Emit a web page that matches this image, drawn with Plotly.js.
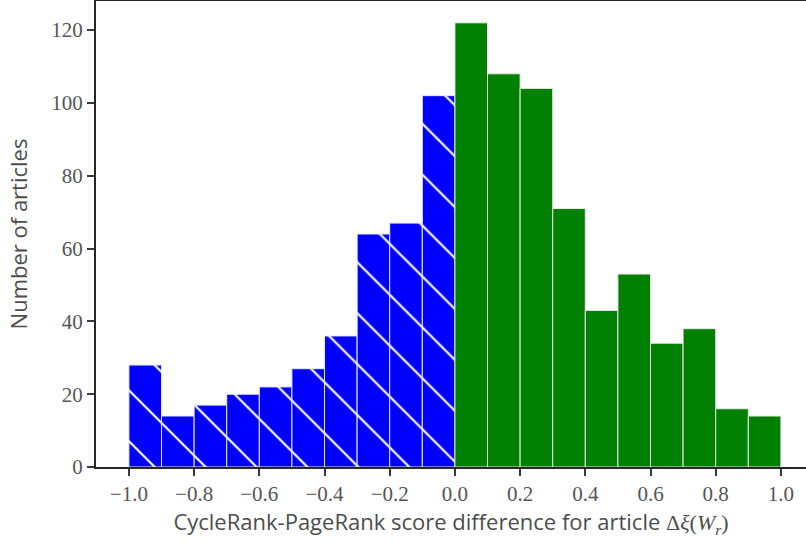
<!DOCTYPE html>
<html>
<head>
<meta charset="utf-8">
<script src="https://cdn.plot.ly/plotly-3.0.1.min.js"></script>
<style>
  html, body { margin: 0; padding: 0; background: #fff; }
  #chart { width: 806px; height: 547px; }
</style>
</head>
<body>
<div id="chart"></div>
<script>
// Histogram of score differences, bins of width 0.1 from -1.0 to 1.0
const binWidth = 0.1;
const negBinStarts = [-1.0, -0.9, -0.8, -0.7, -0.6, -0.5, -0.4, -0.3, -0.2, -0.1];
const negCounts    = [28, 14, 17, 20, 22, 27, 36, 64, 67, 102];
const posBinStarts = [0.0, 0.1, 0.2, 0.3, 0.4, 0.5, 0.6, 0.7, 0.8, 0.9];
const posCounts    = [122, 108, 104, 71, 43, 53, 34, 38, 16, 14];

const xTickVals = [-1.0, -0.8, -0.6, -0.4, -0.2, 0.0, 0.2, 0.4, 0.6, 0.8, 1.0];
const xTickText = ['\u22121.0', '\u22120.8', '\u22120.6', '\u22120.4', '\u22120.2', '0.0', '0.2', '0.4', '0.6', '0.8', '1.0'];
const yTickVals = [0, 20, 40, 60, 80, 100, 120];

const serif = 'Liberation Serif, DejaVu Serif, serif';
const sans = 'Open Sans, DejaVu Sans, sans-serif';

const negative = {
  type: 'bar',
  x: negBinStarts,
  y: negCounts,
  width: binWidth,
  offset: 0,
  marker: {
    color: '#0000ff',
    line: { color: '#e8e8ff', width: 1 },
    pattern: { shape: '\\', fgcolor: '#ffffff', bgcolor: '#0000ff', size: 36, solidity: 0.06, fillmode: 'replace' }
  },
  hoverinfo: 'x+y'
};

const positive = {
  type: 'bar',
  x: posBinStarts,
  y: posCounts,
  width: binWidth,
  offset: 0,
  marker: {
    color: '#008000',
    line: { color: '#e8e8e8', width: 1 }
  },
  hoverinfo: 'x+y'
};

const layout = {
  width: 806,
  height: 547,
  margin: { l: 96, r: 0, t: 1, b: 80 },
  paper_bgcolor: '#ffffff',
  plot_bgcolor: '#ffffff',
  showlegend: false,
  barmode: 'overlay',
  bargap: 0,
  xaxis: {
    range: [-1.101, 1.077],
    tickvals: xTickVals,
    ticktext: xTickText,
    ticks: 'outside',
    ticklen: 7,
    tickwidth: 2,
    tickcolor: '#3a3a3a',
    showgrid: false,
    zeroline: false,
    showline: true,
    linecolor: '#262626',
    linewidth: 2,
    mirror: true,
    tickfont: { family: serif, size: 21, color: '#555555' },
    title: {
      text: 'CycleRank-PageRank score difference for article <span style="font-family:Liberation Serif, serif">\u0394<i>\u03be</i>(<i>W</i><sub><i>r</i></sub>)</span>',
      font: { family: sans, size: 22, color: '#4d4d4d' },
      standoff: 4
    }
  },
  yaxis: {
    range: [0, 128],
    tickvals: yTickVals,
    ticks: 'outside',
    ticklen: 7,
    tickwidth: 2,
    tickcolor: '#3a3a3a',
    showgrid: false,
    zeroline: false,
    showline: true,
    linecolor: '#262626',
    linewidth: 2,
    tickfont: { family: serif, size: 21, color: '#555555' },
    title: {
      text: 'Number of articles',
      font: { family: sans, size: 22, color: '#4d4d4d' },
      standoff: 18
    }
  }
};

Plotly.newPlot('chart', [negative, positive], layout, { displayModeBar: false, staticPlot: true });
</script>
</body>
</html>
